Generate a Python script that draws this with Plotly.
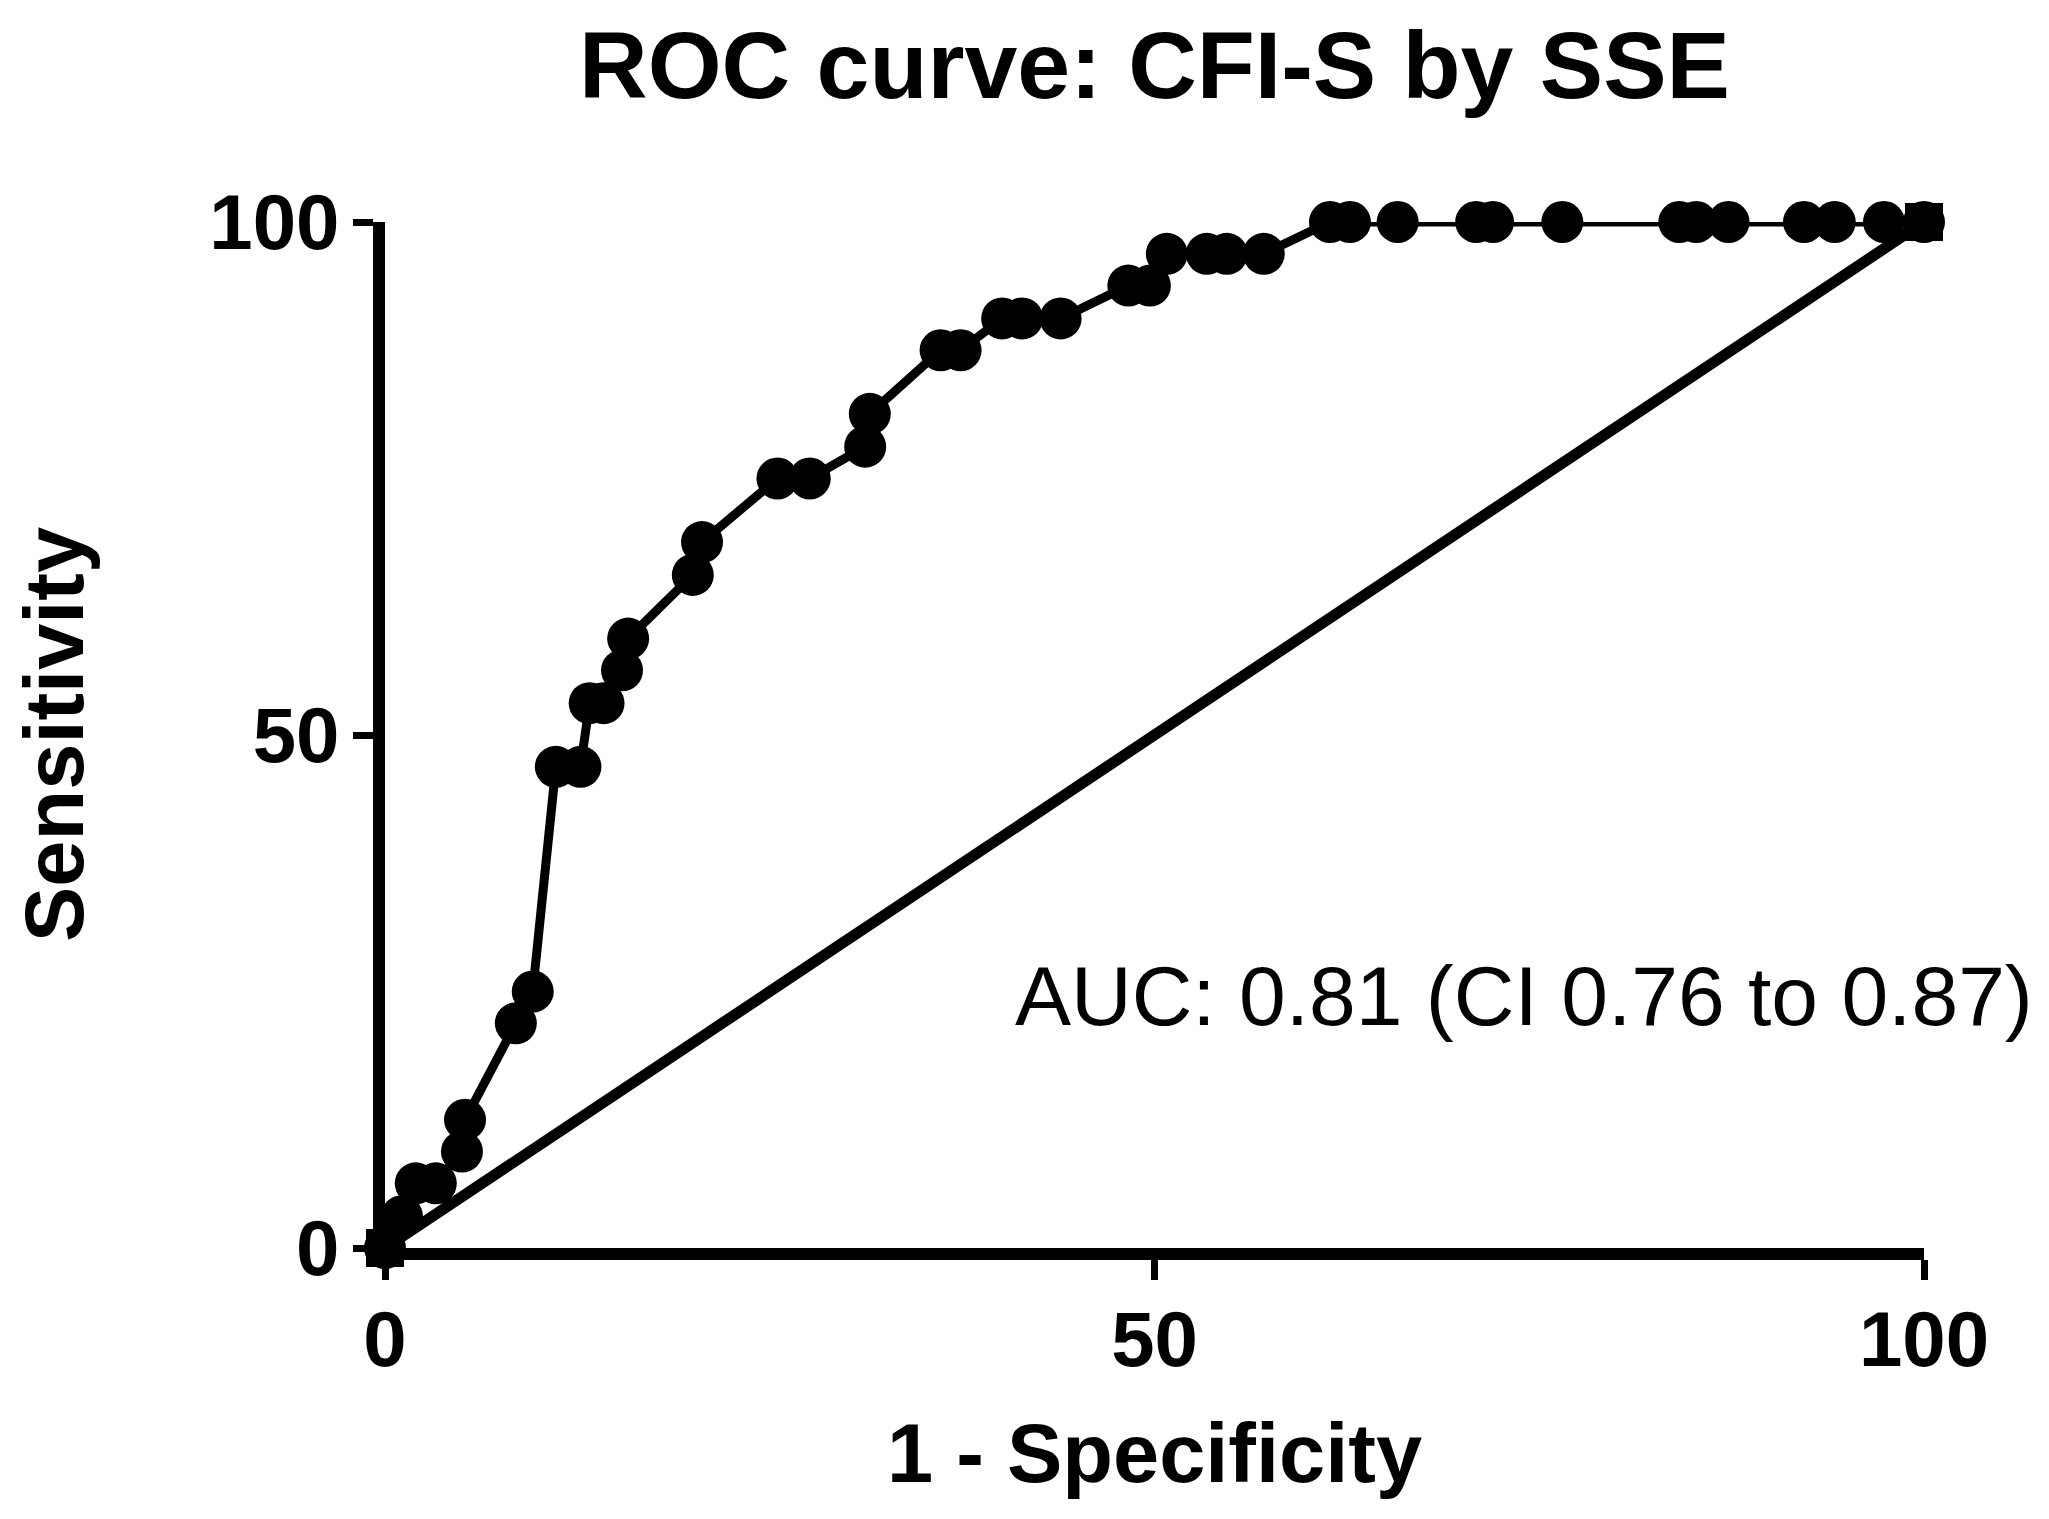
import plotly.graph_objects as go

# ROC data (1 - Specificity %, Sensitivity %)
fpr = [0, 1.1, 2.0, 3.3, 5.0, 5.2, 8.5, 9.6, 11.1, 12.7, 13.3, 14.2, 15.4, 15.8,
       20.0, 20.6, 25.5, 27.6, 31.2, 31.5, 36.1, 37.4, 40.1, 41.4, 43.9, 48.3,
       49.7, 50.8, 53.4, 54.7, 57.1, 61.4, 62.7, 65.8, 70.9, 72.0, 76.5, 84.1,
       85.2, 87.3, 92.2, 94.2, 97.4, 100]
sens = [0, 3.1, 6.3, 6.3, 9.4, 12.5, 21.9, 25.0, 46.9, 46.9, 53.1, 53.1, 56.3, 59.4,
        65.6, 68.8, 75.0, 75.0, 78.1, 81.3, 87.5, 87.5, 90.6, 90.6, 90.6, 93.8,
        93.8, 96.9, 96.9, 96.9, 96.9, 100, 100, 100, 100, 100, 100, 100,
        100, 100, 100, 100, 100, 100]

# Line of identity
diag_x = [0, 100]
diag_y = [0, 100]

tick_vals = [0, 50, 100]
tick_text = ["0", "50", "100"]

title_text = "ROC curve: CFI-S by SSE"
x_title = "1 - Specificity"
y_title = "Sensitivity"
auc_text = "AUC: 0.81 (CI 0.76 to 0.87)"

FONT = "Liberation Sans, Arial, Helvetica, sans-serif"

L, R, T, B = 377, 133, 214, 279
PW, PH = 2049 - L - R, 1519 - T - B

fig = go.Figure()
fig.add_trace(go.Scatter(
    x=fpr, y=sens, mode="lines+markers",
    line=dict(color="black", width=9),
    marker=dict(symbol="circle", size=42, color="black"),
    cliponaxis=False, showlegend=False, hoverinfo="x+y"))
fig.add_trace(go.Scatter(
    x=diag_x, y=diag_y, mode="lines+markers",
    line=dict(color="black", width=11),
    marker=dict(symbol="square", size=38, color="black"),
    cliponaxis=False, showlegend=False, hoverinfo="x+y"))

axis_common = dict(
    range=[0, 100], showgrid=False, zeroline=False, automargin=False,
    showline=True, linecolor="black", linewidth=12,
    ticks="outside", ticklen=20, tickwidth=7, tickcolor="black",
    tickvals=tick_vals, ticktext=tick_text,
    tickfont=dict(family=FONT, size=78, color="black", weight="bold"),
)

fig.update_layout(
    width=2049, height=1519,
    paper_bgcolor="white", plot_bgcolor="white",
    margin=dict(l=L, r=R, t=T, b=B, autoexpand=False),
    title=dict(text=title_text, x=(L + PW / 2) / 2049, xanchor="center",
               y=1 - 57 / 1519, yanchor="middle", yref="container",
               font=dict(family=FONT, size=95, color="black", weight="bold")),
    xaxis=dict(**axis_common, ticklabelstandoff=-8),
    yaxis=dict(**axis_common, ticklabelstandoff=-2),
)

fig.add_annotation(text=x_title, xref="paper", yref="paper",
                   x=0.5, y=-205 / PH, xanchor="center", yanchor="middle",
                   showarrow=False,
                   font=dict(family=FONT, size=83, color="black", weight="bold"))
fig.add_annotation(text=y_title, xref="paper", yref="paper",
                   x=-(L - 46) / PW, y=0.5, xanchor="center", yanchor="middle",
                   textangle=-90, showarrow=False,
                   font=dict(family=FONT, size=83, color="black", weight="bold"))
fig.add_annotation(text=auc_text, xref="x", yref="y",
                   x=40.8, y=24.6, xanchor="left", yanchor="middle",
                   showarrow=False,
                   font=dict(family=FONT, size=84, color="black"))

fig.write_html("out.html")
